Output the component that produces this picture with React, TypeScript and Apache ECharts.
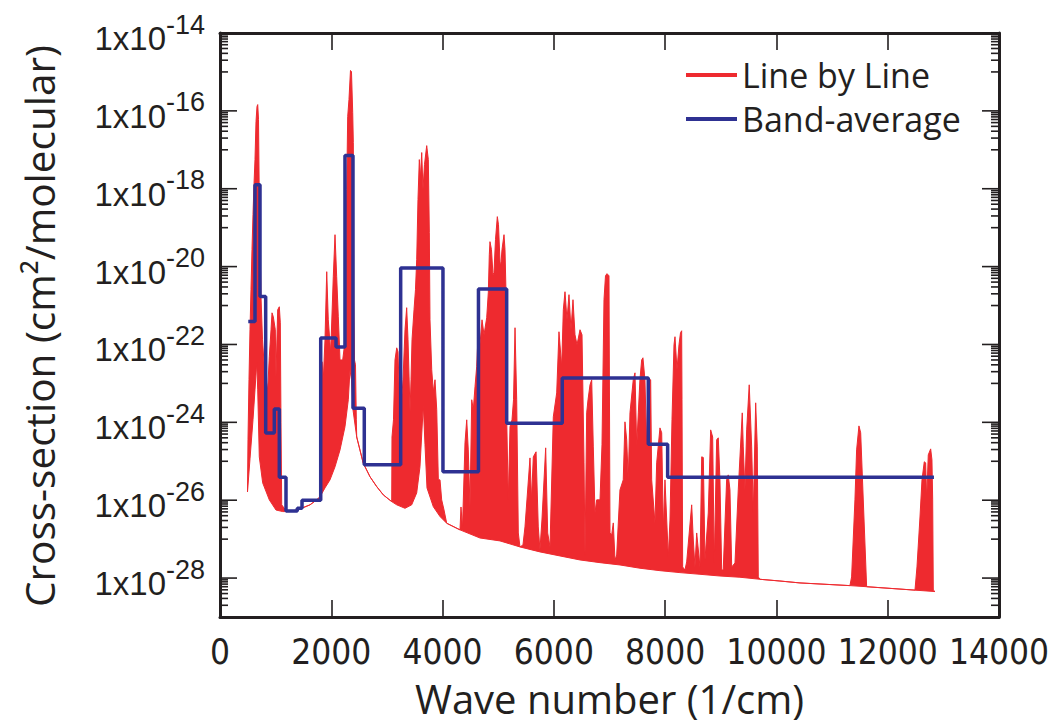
import React, { useEffect, useRef } from "react";
import * as echarts from "echarts";

const RED = "#ee2a2f";
const BLUE = "#2e3192";
const INK = "#231f20";

// Line-by-line spectrum, upper envelope of the absorption lines: [wave number (1/cm), cross-section (cm2/molecule)]
const lblUpper: [number, number][] = [
  [494, 1.63e-26], [503, 3.55e-25], [521, 1.24e-23], [539, 2.39e-22], [557, 2.55e-21], [575, 2.72e-20],
  [593, 2.16e-19], [611, 1.27e-18], [629, 5.6e-18], [647, 5.3e-17], [665, 1.3e-16], [678, 1.45e-16],
  [692, 5.97e-17], [706, 5.25e-19], [719, 4.92e-20], [737, 1.68e-21], [764, 1.32e-22], [796, 2.67e-23],
  [827, 1.24e-23], [857, 6.8e-24], [886, 4.83e-23], [917, 2.39e-22], [935, 6.5e-22], [958, 5.15e-22],
  [994, 2.39e-22], [1006, 1.48e-23], [1037, 7.8e-22], [1066, 9.3e-22], [1084, 3.6e-22], [1096, 9.7e-25],
  [1109, 7.6e-27], [1199, 5.1e-27], [1389, 5.6e-27], [1617, 7.6e-27], [1738, 1.02e-26], [1797, 1.22e-26],
  [1815, 6.4e-25], [1833, 3.6e-23], [1856, 1.24e-23], [1887, 1.32e-22], [1918, 7.4e-21], [1946, 4.3e-22],
  [1989, 6.1e-23], [2036, 5.5e-21], [2067, 6.6e-20], [2097, 5.5e-21], [2126, 5.15e-22], [2157, 4.0e-23],
  [2205, 4.0e-23], [2234, 8.7e-23], [2255, 1.41e-21], [2277, 9.5e-19], [2295, 7.1e-17], [2318, 1.95e-16],
  [2345, 1.09e-15], [2363, 1.02e-15], [2385, 9.0e-17], [2396, 1.53e-17], [2405, 1.41e-21], [2417, 4.0e-23],
  [2435, 3.0e-23], [2450, 1.16e-24], [2457, 4.2e-25], [2575, 8.9e-26], [2696, 4.0e-26], [2816, 2.24e-26],
  [2935, 1.37e-26], [3086, 9.2e-27], [3091, 4.2e-25], [3118, 1.16e-24], [3145, 4.0e-23], [3176, 8.2e-23],
  [3199, 6.5e-23], [3226, 3.8e-24], [3253, 2.1e-24], [3289, 1.24e-23], [3325, 2.39e-22], [3355, 8.8e-22],
  [3379, 1.32e-22], [3415, 1.86e-24], [3433, 1.24e-23], [3451, 1.32e-22], [3487, 7.8e-22], [3513, 2.55e-21],
  [3535, 1.5e-20], [3558, 5.25e-19], [3582, 5.6e-18], [3603, 1.93e-18], [3625, 8.5e-18], [3648, 9.5e-19],
  [3675, 4.2e-18], [3715, 1.28e-17], [3744, 5.6e-18], [3762, 7.4e-20], [3774, 4.3e-22], [3805, 2.24e-23],
  [3834, 6.1e-24], [3864, 1.24e-23], [3895, 2.1e-24], [3924, 3.33e-26], [3954, 3.33e-26], [3984, 1.02e-26],
  [4026, 5.6e-27], [4074, 2.56e-27], [4313, 1.73e-27], [4331, 6.7e-27], [4358, 1.94e-27], [4403, 2.97e-25],
  [4434, 1.16e-24], [4462, 1.96e-25], [4493, 6.7e-27], [4524, 3.8e-24], [4552, 2.1e-24], [4583, 8.2e-24],
  [4613, 2.67e-23], [4642, 2.39e-22], [4672, 9.8e-23], [4709, 4.3e-22], [4745, 1.77e-22], [4793, 4.85e-22],
  [4822, 2.13e-21], [4840, 2.02e-20], [4852, 4.37e-20], [4879, 2.72e-20], [4906, 6.2e-21], [4924, 7.0e-21],
  [4951, 4.92e-20], [4984, 1.92e-19], [5005, 1.19e-19], [5032, 1.34e-20], [5045, 9.9e-21], [5068, 2.72e-20],
  [5104, 6.6e-20], [5122, 2.72e-20], [5140, 2.13e-21], [5152, 1.38e-24], [5181, 1.02e-26], [5212, 7.7e-25],
  [5248, 1.16e-24], [5275, 3.8e-24], [5302, 2.69e-22], [5332, 3.8e-24], [5361, 1.44e-27], [5391, 6.3e-28],
  [5445, 7.1e-28], [5481, 2.06e-27], [5571, 1.22e-25], [5598, 1.02e-26], [5631, 1.3e-25], [5680, 1.75e-25],
  [5720, 2.06e-27], [5750, 5.3e-28], [5786, 3.1e-27], [5853, 2.21e-25], [5889, 1.44e-27], [5931, 6.3e-28],
  [5990, 1.38e-24], [6051, 5.7e-24], [6092, 2.12e-22], [6141, 2.67e-23], [6170, 7.8e-22], [6200, 2.26e-21],
  [6236, 4.3e-22], [6272, 1.9e-21], [6308, 2.39e-22], [6344, 1.41e-21], [6380, 1.77e-22], [6416, 9.8e-23],
  [6470, 2.39e-22], [6506, 1.77e-22], [6542, 9.1e-26], [6560, 3.9e-28], [6590, 1.75e-24], [6614, 3.8e-24],
  [6650, 9.2e-24], [6680, 1.24e-23], [6709, 2.34e-25], [6739, 4.7e-27], [6770, 1.02e-26], [6829, 1.02e-26],
  [6865, 2.64e-25], [6901, 1.41e-21], [6928, 5.8e-21], [6955, 6.6e-21], [6991, 5.8e-21], [7009, 1.44e-27],
  [7039, 1.28e-27], [7068, 2.61e-27], [7099, 2.9e-28], [7129, 3.9e-28], [7188, 1.84e-26], [7247, 3.33e-26],
  [7278, 1.03e-24], [7309, 3.55e-25], [7337, 3.33e-26], [7368, 1.75e-24], [7427, 1.24e-23], [7458, 1.87e-23],
  [7489, 2.34e-25], [7518, 1.75e-24], [7547, 1.24e-23], [7578, 4.0e-23], [7601, 4.55e-23], [7637, 1.24e-23],
  [7668, 2.34e-25], [7691, 1.24e-23], [7740, 1.24e-23], [7758, 3.33e-26], [7817, 2.61e-27], [7848, 9.1e-26],
  [7907, 7.2e-25], [7938, 5.4e-25], [7967, 1.73e-27], [7997, 3.33e-26], [8057, 3.5e-28], [8087, 3.1e-27],
  [8123, 1.16e-24], [8159, 9.8e-23], [8177, 1.58e-22], [8213, 2.24e-23], [8249, 9.8e-23], [8276, 2.0e-22],
  [8297, 2.25e-22], [8303, 3.8e-24], [8315, 1.93e-28], [8356, 1.61e-28], [8387, 2.6e-28], [8477, 7.6e-27],
  [8506, 9.5e-28], [8536, 1.93e-28], [8567, 1.44e-27], [8626, 1.93e-28], [8657, 1.3e-25], [8686, 1.25e-25],
  [8716, 2.92e-28], [8775, 4.7e-27], [8818, 6.4e-25], [8854, 4.2e-25], [8883, 2.44e-28], [8926, 3.55e-25],
  [8955, 4.0e-25], [8985, 3.33e-26], [9016, 1.61e-28], [9044, 1.61e-28], [9105, 3.33e-26], [9134, 4.47e-26],
  [9165, 1.84e-26], [9196, 1.93e-28], [9255, 2.44e-28], [9314, 1.84e-26], [9386, 1.75e-24], [9404, 2.34e-25],
  [9434, 1.84e-26], [9465, 6.4e-25], [9511, 9.2e-24], [9555, 2.34e-25], [9584, 4.7e-27], [9627, 3.17e-24],
  [9656, 2.34e-25], [9674, 1.07e-28], [9704, 9.3e-29], [10063, 8.4e-29], [10423, 7.5e-29], [11321, 6.4e-29],
  [11351, 1.07e-28], [11411, 1.02e-26], [11441, 1.96e-25], [11483, 8.1e-25], [11514, 5.4e-25], [11621, 6.0e-29],
  [12490, 4.9e-29], [12526, 1.93e-28], [12580, 3.7e-27], [12616, 3.33e-26], [12657, 9.7e-26], [12682, 9.1e-26],
  [12700, 1.02e-26], [12729, 1.46e-25], [12772, 2.08e-25], [12795, 1.09e-25], [12808, 1.02e-26], [12819, 4.9e-29],
  [12850, 4.5e-29],
];

// Line-by-line spectrum, lower envelope (continuum and line wings between the lines)
const lblLower: [number, number][] = [
  [494, 1.63e-26], [539, 1.15e-25], [593, 1.16e-24], [629, 6.8e-24], [660, 3.39e-23], [678, 6.8e-24],
  [706, 1.3e-25], [767, 2.79e-26], [886, 1.02e-26], [1006, 5.6e-27], [1127, 5.1e-27], [1199, 5.1e-27],
  [1389, 5.6e-27], [1617, 7.6e-27], [1738, 1.02e-26], [1797, 1.22e-26], [1887, 2.07e-26], [1977, 3.33e-26],
  [2067, 7.2e-26], [2157, 1.96e-25], [2246, 7.7e-25], [2306, 3.8e-24], [2336, 2.24e-23], [2363, 1.24e-23],
  [2390, 2.1e-24], [2457, 4.2e-25], [2575, 8.9e-26], [2696, 4.0e-26], [2816, 2.24e-26], [2935, 1.37e-26],
  [3086, 9.2e-27], [3176, 7.6e-27], [3325, 6.2e-27], [3445, 7.6e-27], [3535, 1.54e-26], [3594, 7.2e-26],
  [3654, 2.82e-24], [3684, 2.64e-25], [3720, 2.07e-26], [3834, 6.8e-27], [3954, 3.8e-27], [4074, 2.56e-27],
  [4313, 1.73e-27], [4672, 1.07e-27], [5032, 9.0e-28], [5391, 6.3e-28], [5750, 4.7e-28], [6110, 3.7e-28],
  [6469, 2.92e-28], [6829, 2.49e-28], [7188, 2.17e-28], [7547, 1.79e-28], [7907, 1.55e-28], [8266, 1.38e-28],
  [8626, 1.25e-28], [8985, 1.13e-28], [9344, 1.05e-28], [9704, 9.3e-29], [10063, 8.4e-29], [10423, 7.5e-29],
  [11321, 6.4e-29], [11621, 6.0e-29], [12490, 4.9e-29], [12850, 4.5e-29],
];

// Band-average: start of each band (1/cm), its mean cross-section, and the end of the last band
const bandStarts = [508, 629, 719, 821, 976, 1066, 1186, 1389, 1474, 1810, 2085, 2246, 2390, 2593, 3247, 4007, 4645, 5152, 6151, 7697, 8045];
const bandValues = [3.9e-22, 1.27e-18, 1.7e-21, 5.3e-25, 2.2e-24, 3.9e-26, 5.3e-27, 6.2e-27, 1.0e-26, 1.46e-22, 8.6e-23, 7.1e-18, 2.3e-24, 8.1e-26, 9.2e-21, 5.4e-26, 2.65e-21, 9.5e-25, 1.37e-23, 2.75e-25, 3.9e-26];
const bandEnd = 12831;

// Axes
const xMin = 0;
const xMax = 14000;
const xStep = 2000;
const yMin = 1e-29;
const yMax = 1e-14;
const yMajorExps = [-28, -26, -24, -22, -20, -18, -16, -14];
const yMinorExps = [-29, -27, -25, -23, -21, -19, -17, -15];
const yMinorMultipliers = [1, 2, 3, 4, 5, 6, 7, 8, 9];

const xTitle = "Wave number (1/cm)";
const yTitle = "Cross-section (cm²/molecular)";

const LABEL_FONT = "'Liberation Sans', Arial, sans-serif";
const NARROW_FONT = "'Liberation Sans Narrow', 'DejaVu Sans Condensed', 'Liberation Sans', sans-serif";
const TITLE_FONT = "'Open Sans', 'Noto Sans', sans-serif";

export default function App() {
  const ref = useRef<HTMLDivElement>(null);

  useEffect(() => {
    if (!ref.current) return;
    const chart = echarts.init(ref.current, undefined, { renderer: "svg" });

    const bandData: [number, number][] = bandStarts.map((x, i) => [x, bandValues[i]]);
    bandData.push([bandEnd, bandValues[bandValues.length - 1]]);

    const tickData: number[][] = [];
    yMajorExps.forEach((e) => tickData.push([xMin, Math.pow(10, e), 1]));
    yMinorExps.forEach((e) =>
      yMinorMultipliers.forEach((m) => tickData.push([xMin, m * Math.pow(10, e), 0]))
    );

    const option: any = {
      animation: false,
      backgroundColor: "#ffffff",
      grid: { left: 220, right: 60, top: 33, bottom: 109, containLabel: false, outerBoundsMode: "none" },
      legend: {
        orient: "vertical",
        left: 686,
        top: 58,
        itemWidth: 51,
        itemHeight: 4,
        itemGap: 10,
        padding: 0,
        textStyle: { fontSize: 34, fontFamily: TITLE_FONT, color: INK, lineHeight: 34 },
        data: [
          { name: "Line by Line", icon: "rect", itemStyle: { color: RED } },
          { name: "Band-average", icon: "rect", itemStyle: { color: BLUE } },
        ],
      },
      graphic: [
        {
          type: "text",
          x: 39,
          y: 326,
          rotation: Math.PI / 2,
          silent: true,
          style: {
            text: yTitle,
            fontSize: 40.5,
            fontFamily: TITLE_FONT,
            fill: INK,
            align: "center",
            verticalAlign: "middle",
          },
        },
      ],
      xAxis: [
        {
          type: "value",
          position: "bottom",
          min: xMin,
          max: xMax,
          interval: xStep,
          name: xTitle,
          nameLocation: "middle",
          nameGap: 60,
          nameMoveOverlap: false,
          nameTextStyle: { fontSize: 40, fontFamily: TITLE_FONT, color: INK, lineHeight: 42 },
          axisLine: { show: true, onZero: false, lineStyle: { color: INK, width: 3 } },
          axisTick: { show: true, inside: true, length: 17, lineStyle: { color: INK, width: 1.6 } },
          axisLabel: {
            fontSize: 35,
            lineHeight: 30,
            fontFamily: NARROW_FONT,
            color: INK,
            margin: 20,
            formatter: (v: number) => String(v),
          },
          splitLine: { show: false },
        },
        {
          type: "value",
          position: "top",
          min: xMin,
          max: xMax,
          interval: xStep,
          axisLine: { show: true, onZero: false, lineStyle: { color: INK, width: 3 } },
          axisTick: { show: true, inside: true, length: 17, lineStyle: { color: INK, width: 1.6 } },
          axisLabel: { show: false },
          splitLine: { show: false },
        },
      ],
      yAxis: [
        {
          type: "log",
          logBase: 10,
          position: "left",
          min: yMin,
          max: yMax,
          interval: 1,
          axisLine: { show: true, onZero: false, lineStyle: { color: INK, width: 3 } },
          axisTick: { show: false },
          minorTick: { show: false },
          splitLine: { show: false },
          axisLabel: {
            margin: 15,
            verticalAlign: "middle",
            formatter: (v: number) => {
              const e = Math.round(Math.log10(v));
              if (e % 2 !== 0) return "";
              return `{m|1x10}{e|${e}}`;
            },
            rich: {
              m: { fontSize: 33, fontFamily: LABEL_FONT, color: INK, verticalAlign: "bottom", lineHeight: 44 },
              e: { fontSize: 27, fontFamily: LABEL_FONT, color: INK, verticalAlign: "top", lineHeight: 24 },
            },
          },
        },
        {
          type: "log",
          logBase: 10,
          position: "right",
          min: yMin,
          max: yMax,
          interval: 1,
          axisLine: { show: true, onZero: false, lineStyle: { color: INK, width: 3 } },
          axisTick: { show: false },
          axisLabel: { show: false },
          splitLine: { show: false },
        },
      ],
      series: [
        {
          name: "Line by Line",
          type: "custom",
          coordinateSystem: "cartesian2d",
          xAxisIndex: 0,
          yAxisIndex: 0,
          itemStyle: { color: RED },
          data: lblUpper,
          z: 2,
          renderItem: (params: any, api: any) => {
            if (params.dataIndex !== 0) return null;
            const pts = lblUpper
              .map((p) => api.coord(p))
              .concat(lblLower.slice().reverse().map((p) => api.coord(p)));
            return {
              type: "polygon",
              shape: { points: pts },
              style: { fill: RED, stroke: RED, lineWidth: 1 },
            };
          },
        },
        {
          name: "Band-average",
          type: "line",
          xAxisIndex: 0,
          yAxisIndex: 0,
          step: "end",
          symbol: "none",
          data: bandData,
          lineStyle: { color: BLUE, width: 3.5 },
          itemStyle: { color: BLUE },
          z: 3,
        },
        {
          name: "yTicks",
          type: "custom",
          coordinateSystem: "cartesian2d",
          xAxisIndex: 0,
          yAxisIndex: 0,
          data: tickData,
          z: 4,
          silent: true,
          renderItem: (params: any, api: any) => {
            const v = api.value(1);
            const major = api.value(2) === 1;
            const len = major ? 17 : 8;
            const l = api.coord([xMin, v]);
            const r = api.coord([xMax, v]);
            const st = { stroke: INK, lineWidth: 1.6 };
            return {
              type: "group",
              children: [
                { type: "line", shape: { x1: l[0], y1: l[1], x2: l[0] + len, y2: l[1] }, style: st },
                { type: "line", shape: { x1: r[0] - len, y1: r[1], x2: r[0], y2: r[1] }, style: st },
              ],
            };
          },
        },
      ],
    };

    chart.setOption(option);
    return () => chart.dispose();
  }, []);

  return (
    <div
      ref={ref}
      style={{ position: "fixed", left: 0, top: 0, width: 1059, height: 726, background: "#fff" }}
    />
  );
}
